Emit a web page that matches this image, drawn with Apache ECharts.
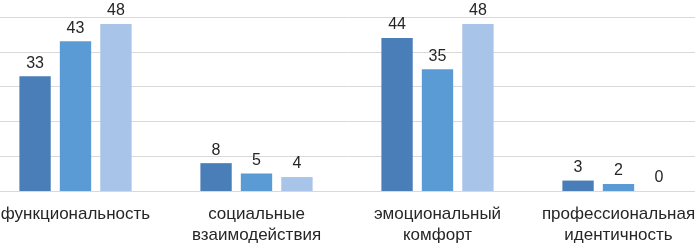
<!DOCTYPE html>
<html>
<head>
<meta charset="utf-8">
<script src="https://cdn.jsdelivr.net/npm/echarts@6/dist/echarts.min.js"></script>
<style>
  html, body { margin: 0; padding: 0; background: #fff; }
  #chart { width: 695px; height: 243px; }
</style>
</head>
<body>
<div id="chart"></div>
<script>
// данные
const categories = ['функциональность', 'социальные\nвзаимодействия', 'эмоциональный\nкомфорт', 'профессиональная\nидентичность'];
const series1 = [33, 8, 44, 3];
const series2 = [43, 5, 35, 2];
const series3 = [48, 4, 48, 0];
const colors = ['#4a7eb9', '#5b9bd5', '#a8c4e8'];

const myChart = echarts.init(document.getElementById('chart'));

function makeSeries(data, color) {
    return {
        type: 'bar',
        data: data,
        color: color,
        barGap: '29%',
        barCategoryGap: '38%',
        label: {
            show: true,
            position: 'top',
            distance: 5,
            color: '#262626',
            fontSize: 16,
            fontFamily: 'Liberation Sans, Arial, sans-serif'
        }
    };
}

const option = {
    animation: false,
    grid: {
        left: -15,
        right: -14,
        top: 17,
        bottom: 52,
        containLabel: false,
        outerBoundsMode: 'none'
    },
    xAxis: {
        type: 'category',
        data: categories,
        axisLine: { lineStyle: { color: '#d9d9d9', width: 1 } },
        axisTick: { show: false },
        axisLabel: {
            color: '#262626',
            fontSize: 17,
            lineHeight: 21,
            margin: 13,
            interval: 0,
            fontFamily: 'Liberation Sans, Arial, sans-serif'
        }
    },
    yAxis: {
        type: 'value',
        min: 0,
        max: 50,
        interval: 10,
        axisLine: { show: false },
        axisTick: { show: false },
        axisLabel: { show: false },
        splitLine: { lineStyle: { color: '#d9d9d9', width: 1 } }
    },
    series: [
        makeSeries(series1, colors[0]),
        makeSeries(series2, colors[1]),
        makeSeries(series3, colors[2])
    ]
};

myChart.setOption(option);
</script>
</body>
</html>
